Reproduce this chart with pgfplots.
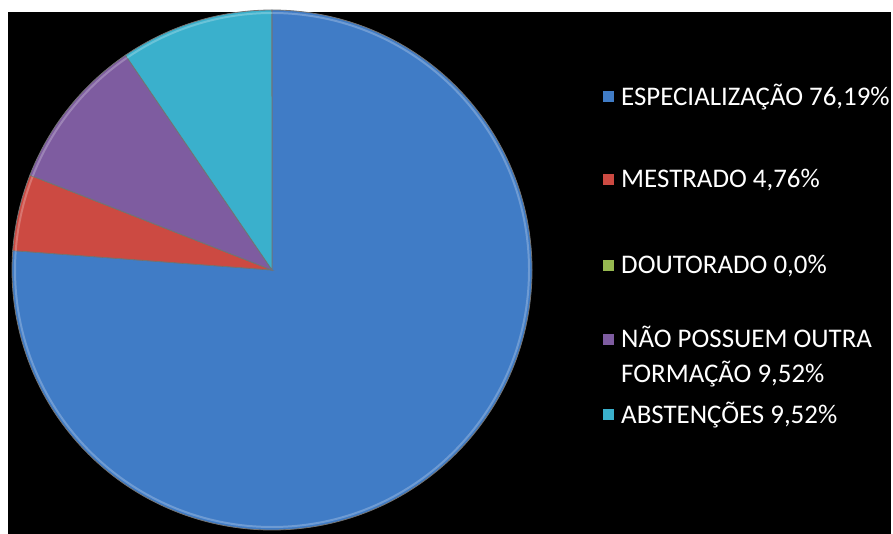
\documentclass[border=0pt]{standalone}
\usepackage{pgfplots}
\pgfplotsset{compat=1.18}
\usepackage{pgfplotstable}
\usepackage{fontspec}
\setmainfont{Carlito}

\definecolor{cEsp}{RGB}{64,124,198}
\definecolor{cMes}{RGB}{204,74,66}
\definecolor{cDou}{RGB}{150,184,80}
\definecolor{cNao}{RGB}{126,92,160}
\definecolor{cAbs}{RGB}{58,176,204}

% fatias em %, sentido horario a partir do topo
\pgfplotstableread[col sep=comma]{
value,color
76.19,cEsp
4.76,cMes
0.0,cDou
9.52,cNao
9.52,cAbs
}\piedata

\begin{document}
\begin{tikzpicture}
\pgfmathsetmacro\cum{0}
\pgfplotsforeachungrouped \i in {0,...,4}{%
  \pgfplotstablegetelem{\i}{value}\of\piedata
  \pgfmathsetmacro\vv{\pgfplotsretval}%
  \pgfmathsetmacro\sa{90-3.6*\cum}%
  \pgfmathsetmacro\cum{\cum+\vv}%
  \pgfmathsetmacro\ea{90-3.6*\cum}%
  \expandafter\xdef\csname sa\i\endcsname{\sa}%
  \expandafter\xdef\csname ea\i\endcsname{\ea}%
  \pgfplotstablegetelem{\i}{color}\of\piedata
  \expandafter\xdef\csname col\i\endcsname{\pgfplotsretval}%
}
\begin{axis}[
    width=893bp, height=534bp,
    scale only axis,
    xmin=0, xmax=893, ymin=0, ymax=534,
    hide axis,
    clip=false,
]
\fill[white] (axis cs:0,0) rectangle (axis cs:893,534);
\fill[black] (axis cs:8,0) rectangle (axis cs:891,522);

\pgfplotsinvokeforeach{0,...,4}{
  \fill[\csname col#1\endcsname, draw=black!55, line width=0.8pt]
    (axis cs:272,264) -- ++(\csname sa#1\endcsname:260bp)
    arc[start angle=\csname sa#1\endcsname, end angle=\csname ea#1\endcsname, radius=260bp]
    -- cycle;
  \draw[\csname col#1\endcsname!60!white, line width=2pt, opacity=0.6]
    ([shift={(\csname sa#1\endcsname:257bp)}]axis cs:272,264)
    arc[start angle=\csname sa#1\endcsname, end angle=\csname ea#1\endcsname, radius=257bp];
}

\def\legrow#1#2#3{%
  \fill[#2] (axis cs:603,#1-5) rectangle (axis cs:614,#1+6);
  \node[anchor=west, text=white, align=left, inner sep=0pt,
        font=\fontsize{27}{35}\selectfont]
    at (axis cs:621,#1) {#3};
}
\legrow{437}{cEsp}{ESPECIALIZAÇÃO 76,19\%}
\legrow{354}{cMes}{MESTRADO 4,76\%}
\legrow{268}{cDou}{DOUTORADO 0,0\%}
\fill[cNao] (axis cs:603,189) rectangle (axis cs:614,200);
\node[anchor=north west, text=white, align=left, inner sep=0pt,
      font=\fontsize{27}{35}\selectfont]
  at (axis cs:621,208) {NÃO POSSUEM OUTRA\\FORMAÇÃO 9,52\%};
\legrow{119}{cAbs}{ABSTENÇÕES 9,52\%}
\end{axis}
\end{tikzpicture}
\end{document}
